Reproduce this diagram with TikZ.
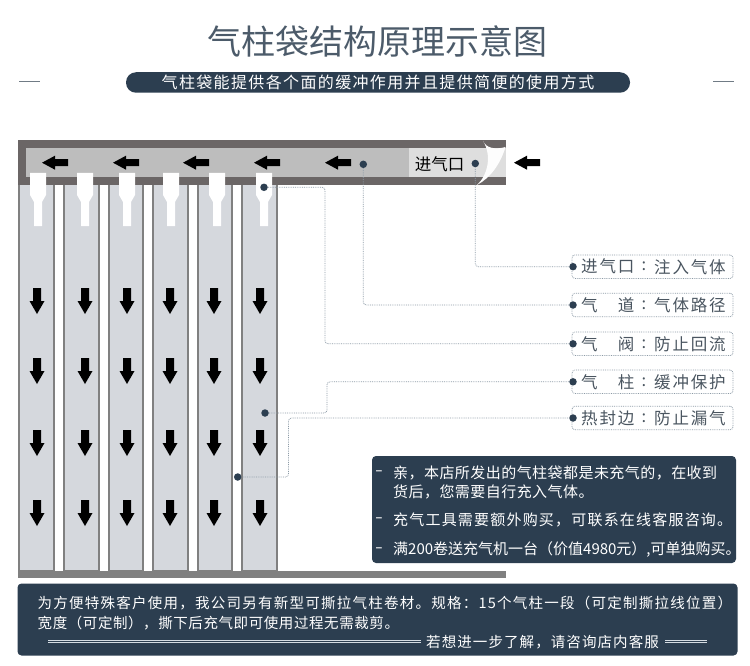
\documentclass[tikz,border=0pt]{standalone}
\usepackage{fontspec}
\usepackage{graphicx}
\setmainfont{Noto Sans CJK SC}
\definecolor{navy}{HTML}{2C3E50}
\definecolor{bandd}{HTML}{6B6666}
\definecolor{bandm}{HTML}{BDBDBD}
\definecolor{bandl}{HTML}{DEDEDE}
\definecolor{colf}{HTML}{D5D8DD}
\definecolor{cole}{HTML}{808080}
\definecolor{leadc}{HTML}{8C9AA6}
\definecolor{labt}{HTML}{4A5560}
\definecolor{rulec}{HTML}{D5DCE2}
\newcommand{\fsz}[2]{\fontsize{#1}{#1}\selectfont\addfontfeature{LetterSpace=#2}}
\newcommand{\leftarr}[1]{\fill[black] (#1) -- ++(13,-7) -- ++(0,3.5) -- ++(13,0) -- ++(0,7) -- ++(-13,0) -- ++(0,3.5) -- cycle;}
\newcommand{\downarr}[1]{\fill[black] (#1) ++(-4,0) -- ++(8,0) -- ++(0,13) -- ++(3.5,0) -- ++(-7.5,13) -- ++(-7.5,-13) -- ++(3.5,0) -- cycle;}
\newcommand{\dashmark}{\fsz{15}{0}\scalebox{1.5}[1]{-}}
\tikzset{
  leader/.style={leadc,densely dotted,line width=0.8pt,rounded corners=3pt},
  dotmark/.style={circle,fill=navy,inner sep=0pt,minimum size=7.5pt},
  tag/.style={draw=leadc,densely dotted,line width=0.8pt,rounded corners=3pt,minimum width=161pt,minimum height=23.5pt,inner sep=0pt},
  tagtext/.style={anchor=west,inner sep=0pt,text=labt,font=\fsz{16.5}{11}},
  panel/.style={fill=navy,rounded corners=4pt,inner sep=0pt},
  wtext/.style={anchor=west,inner sep=0pt,text=white},
  colbar/.style={fill=colf,draw=cole,line width=1.3pt},
  valve/.style={fill=white},
  dblrule/.style={rulec,line width=1.2pt,double=navy,double distance=1pt}
}
\begin{document}
\begin{tikzpicture}[x=1pt,y=-1pt]
\useasboundingbox (0,0) rectangle (750,666);
\fill[white] (0,0) rectangle (750,666);
% header
\node[inner sep=0pt,text=navy!85] (title) at (377,41) {\fsz{34}{0}气柱袋结构原理示意图};
\node[panel,rounded corners=10pt,minimum width=504pt,minimum height=20.5pt,text=white] (pill) at (378,82.5) {\fsz{16}{8.5}气柱袋能提供各个面的缓冲作用并且提供简便的使用方式};
\draw[leadc!80!black,line width=1.5pt] (19,81.5) -- (40,81.5);
\draw[leadc!80!black,line width=1.5pt] (713,81.5) -- (734,81.5);
% columns
\foreach \a/\b in {19/54,64/99,109/143,153/188,198/232,242/277}
  \draw[colbar] (\a,184) rectangle (\b,570.5);
\fill[cole] (18,571) rectangle (506,578);
% top band
\fill[bandd] (18,140) rectangle (506,185);
\fill[bandm] (26,148) rectangle (409,177);
\fill[bandl] (409,148) rectangle (506,177);
\fill[white!95!bandl] (483,141) .. controls (486,148) and (495,150) .. (505.5,147) .. controls (500,165) and (490,178) .. (477,185) .. controls (488,175) and (492,155) .. (483,141) -- cycle;
\node[inner sep=0pt,text=black] (inlet) at (439.5,164) {\fsz{16.5}{0}进气口};
% valves
\foreach \c in {38,85,127,171,217,264}
  \fill[valve] (\c-8,173) -- (\c+8,173) -- (\c+8,195) -- (\c+4,202) -- (\c+4,226) -- (\c-4,226) -- (\c-4,202) -- (\c-8,195) -- cycle;
% arrows
\foreach \x in {42,113,183,254,325,514} {\leftarr{\x,162.7}}
\foreach \x in {37,85,127,170,214,260}
  \foreach \y in {288,358,430,500} {\downarr{\x,\y}}
% tags
\node[tag] (t1) at (652.5,266.7) {};
\node[tag] (t2) at (652.5,305) {};
\node[tag] (t3) at (652.5,343.8) {};
\node[tag] (t4) at (652.5,381.8) {};
\node[tag] (t5) at (652.5,418) {};
\node[tagtext] (x1a) at (581,266.7) {进气口};
\node[tagtext] (x1b) at (654,266.7) {注入气体};
\node[tagtext] (x2a) at (581,305) {气　道};
\node[tagtext] (x2b) at (654,305) {气体路径};
\node[tagtext] (x3a) at (581,343.8) {气　阀};
\node[tagtext] (x3b) at (654,343.8) {防止回流};
\node[tagtext] (x4a) at (581,381.8) {气　柱};
\node[tagtext] (x4b) at (654,381.8) {缓冲保护};
\node[tagtext] (x5a) at (581,418) {热封边};
\node[tagtext] (x5b) at (654,418) {防止漏气};
\foreach \n/\yy in {1/266.7,2/305,3/343.8,4/381.8,5/418}
  \node[tagtext] (c\n) at (641.5,\yy) {:};
% leaders
\node[dotmark] (d1) at (475.3,163.5) {};
\node[dotmark] (d2) at (363.3,164.3) {};
\node[dotmark] (d3) at (264,187.3) {};
\node[dotmark] (d4) at (265,413) {};
\node[dotmark] (d5) at (237.7,477) {};
\node[dotmark] (e1) at (573,266.7) {};
\node[dotmark] (e2) at (573,305) {};
\node[dotmark] (e3) at (573,343.8) {};
\node[dotmark] (e4) at (573,381.8) {};
\node[dotmark] (e5) at (573,418) {};
\coordinate (b3) at (325,187.3);
\coordinate (b4) at (327,413);
\coordinate (b5) at (288.5,477);
\draw[leader] (d1) |- (e1);
\draw[leader] (d2) |- (e2);
\draw[leader] (d3) -- (b3) |- (e3);
\draw[leader] (d4) -- (b4) |- (e4);
\draw[leader] (d5) -- (b5) |- (e5);
% info panel
\node[panel,minimum width=364pt,minimum height=107pt] (info) at (554,509.5) {};
\node[wtext] (i0) at (375,473) {\dashmark};
\node[wtext] (i1) at (393,473) {\fsz{15}{3}亲，本店所发出的气柱袋都是未充气的，在收到};
\node[wtext] (i2) at (393,492) {\fsz{15}{3}货后，您需要自行充入气体。};
\node[wtext] (i3) at (375,520) {\dashmark};
\node[wtext] (i4) at (393,520) {\fsz{15}{8}充气工具需要额外购买，可联系在线客服咨询。};
\node[wtext] (i5) at (375,550) {\dashmark};
\node[wtext] (i6) at (393,550) {\fsz{15}{0}满200卷送充气机一台（价值4980元）,可单独购买。};
% bottom panel
\node[panel,minimum width=720pt,minimum height=72pt] (note) at (377.5,619.5) {};
\node[wtext] (n1) at (37.5,603) {\fsz{14.5}{8.6}为方便特殊客户使用，我公司另有新型可撕拉气柱卷材。规格：15个气柱一段（可定制撕拉线位置）};
\node[wtext] (n2) at (37.5,623) {\fsz{14.5}{4}宽度（可定制），撕下后充气即可使用过程无需裁剪。};
\node[wtext] (n3) at (426,642) {\fsz{14.5}{7.5}若想进一步了解，请咨询店内客服};
\coordinate (r1) at (48,641.5);
\coordinate (r2) at (421,641.5);
\coordinate (r3) at (665,641.5);
\coordinate (r4) at (707,641.5);
\draw[dblrule] (r1) -- (r2);
\draw[dblrule] (r3) -- (r4);
\end{tikzpicture}
\end{document}
